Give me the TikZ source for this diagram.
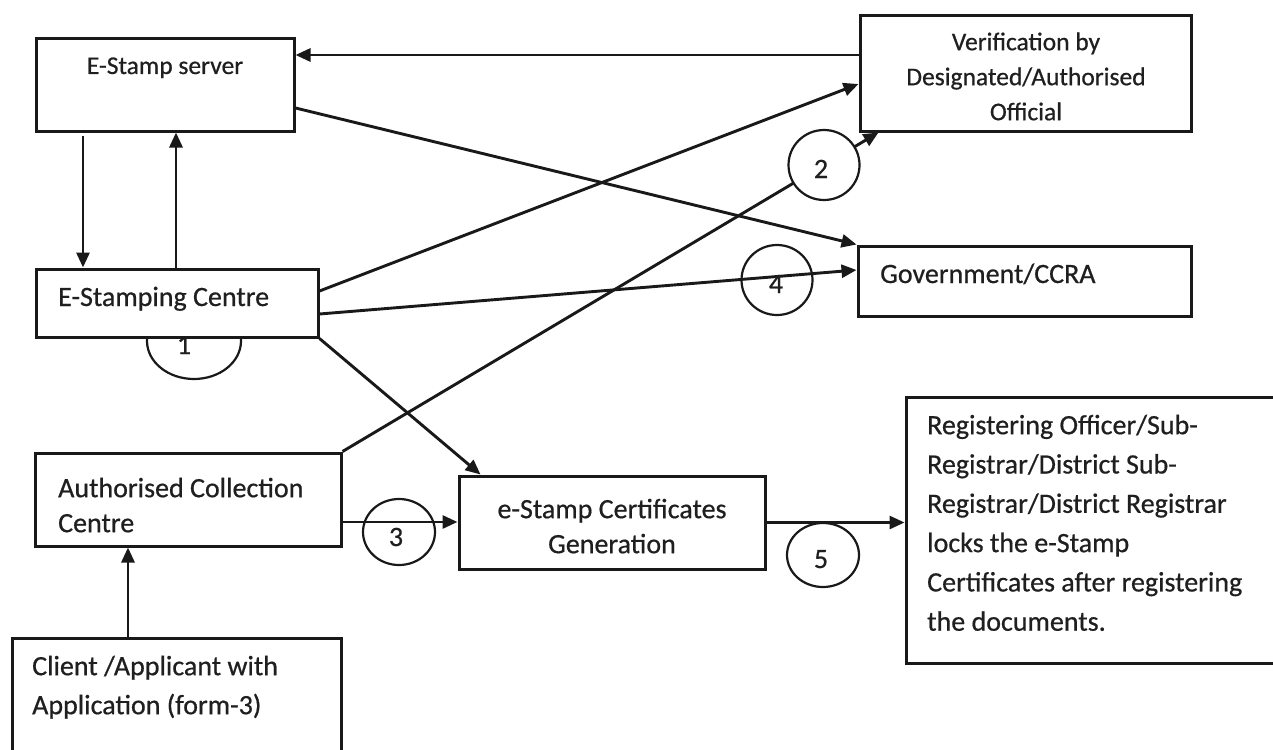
\documentclass[tikz,border=0pt]{standalone}
\usepackage{fontspec}
\setmainfont{Carlito}[FakeBold=0.6]
\usetikzlibrary{arrows.meta,shapes.geometric}
\begin{document}
\begin{tikzpicture}[x=1pt,y=-1pt,
  box/.style={draw=black!90, line width=3pt, fill=white, rectangle, inner sep=0pt},
  ell/.style={draw=black!90, line width=2.2pt, ellipse, inner sep=0pt},
  arr/.style={draw=black!90, line width=2.9pt, -{Triangle[length=15pt,width=13pt]}},
  lbl/.style={inner sep=0pt, text=black!88, font=\fontsize{28}{35}\selectfont},
  lbls/.style={inner sep=0pt, text=black!88, font=\fontsize{25.5}{35}\selectfont},
  num/.style={inner sep=0pt, text=black!88, font=\fontsize{28}{34}\selectfont, anchor=base},
]
\useasboundingbox (0,0) rectangle (1273,749);
\fill[white] (0,0) rectangle (1273,749);
\clip (0,0) rectangle (1273,749);

% circle 1 (partly hidden behind the E-Stamping Centre box)
\node[ell, minimum width=94pt, minimum height=76pt] (c1) at (194,341) {};
\node[num] (n1) at (184,354) {1};

% boxes
\node[box, minimum width=258pt, minimum height=92pt] (srv) at (165,85) {};
\node[box, minimum width=331pt, minimum height=115pt] (ver) at (1025.5,73.5) {};
\node[box, minimum width=333pt, minimum height=70pt] (gov) at (1024.5,281) {};
\node[box, minimum width=282pt, minimum height=68pt] (esc) at (177,303) {};
\node[box, minimum width=306pt, minimum height=93pt] (acc) at (188,499.5) {};
\node[box, minimum width=306pt, minimum height=93pt] (gen) at (612,522.5) {};
\node[box, minimum width=384pt, minimum height=266pt] (reg) at (1098,530) {};
\node[box, minimum width=329pt, minimum height=132pt] (cli) at (176.5,704) {};

% texts
\node[lbls, anchor=base] (srvt) at (165,74) {E-Stamp server};
\node[lbls, anchor=north, align=center] (vert) at (1026,25.5) {\strut Verification by\\Designated/Authorised\\Official};
\node[lbl, anchor=base west] (govt) at (880,283) {Government/CCRA};
\node[lbl, anchor=base west] (esct) at (58,306) {E-Stamping Centre};
\node[lbl, anchor=north west, align=left] (acct) at (58,472.5) {\strut Authorised Collection\\Centre};
\node[lbl, anchor=north, align=center] (gent) at (612,493.5) {\strut e-Stamp Certificates\\Generation};
\node[inner sep=0pt, text=black!88, font=\fontsize{28}{39.3}\selectfont, anchor=north west, align=left] (regt) at (927,406.5)
  {\strut Registering Officer/Sub-\\Registrar/District Sub-\\Registrar/District Registrar\\locks the e-Stamp\\Certificates after registering\\the documents.};
\node[inner sep=0pt, text=black!88, font=\fontsize{28}{39}\selectfont, anchor=north west, align=left] (clit) at (32,647.7)
  {\strut Client /Applicant with\\Application (form-3)};

% connectors
\draw[arr] ([yshift=18.5pt]ver.west) -- ([yshift=30pt]srv.east);
\draw[arr] ([yshift=-23pt]srv.east) -- (gov.north west);
\draw[arr] ([xshift=-82pt,yshift=-3pt]srv.south) -- ([xshift=-94pt]esc.north);
\draw[arr] ([xshift=-1pt]esc.north) -- ([xshift=11pt]srv.south);
\draw[arr] ([yshift=12pt]esc.east) -- ([yshift=-10.5pt]ver.west);
\draw[arr] ([yshift=-11pt]esc.east) -- ([yshift=11pt]gov.west);
\draw[arr] (esc.south east) -- ([xshift=23pt]gen.north west);
\draw[arr] (acc.north east) -- ([xshift=20pt]ver.south west);
\draw[arr] ([yshift=-22.5pt]acc.east) -- ([yshift=0.5pt]gen.west);
\draw[arr] (gen.east) -- (gen.east -| reg.west);
\draw[arr] ([xshift=-48.5pt]cli.north) -- ([xshift=-60pt]acc.south);

% numbered circles
\node[ell, fill=white, minimum width=71pt, minimum height=70pt] (c2) at (824,165) {};
\node[num] (n2) at (821,178) {2};
\node[ell, minimum width=72pt, minimum height=66pt] (c3) at (399,532) {};
\node[num] (n3) at (396,546) {3};
\node[ell, minimum width=71pt, minimum height=70pt] (c4) at (777,280) {};
\node[num] (n4) at (776,293) {4};
\node[ell, minimum width=72pt, minimum height=64pt] (c5) at (823,555) {};
\node[num] (n5) at (821,568) {5};
\end{tikzpicture}
\end{document}
